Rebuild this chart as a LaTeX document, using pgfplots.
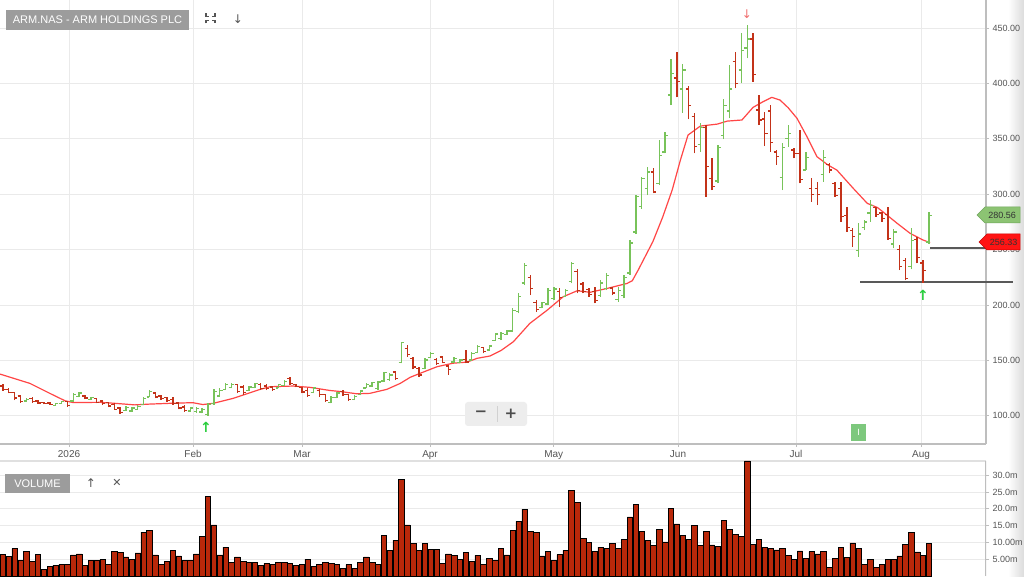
\documentclass[border=0pt]{standalone}
\usepackage{fontspec}
\setmainfont{Liberation Sans}
\newfontfamily\dejavu{DejaVu Sans}
\usepackage{pgfplots}
\usepackage{pgfplotstable}
\pgfplotsset{compat=1.18}

\definecolor{upc}{RGB}{120,195,90}
\definecolor{dnc}{RGB}{195,50,25}
\definecolor{volc}{RGB}{185,40,10}
\definecolor{gridc}{RGB}{234,234,234}
\definecolor{txtc}{RGB}{85,85,85}
\definecolor{mac}{RGB}{255,70,70}
\definecolor{boxg}{RGB}{156,156,156}
\definecolor{axc}{RGB}{190,190,190}

\pgfdeclareplotmark{otick}{\pgfpathmoveto{\pgfqpoint{-2.8pt}{0pt}}\pgfpathlineto{\pgfqpoint{0pt}{0pt}}\pgfusepathqstroke}
\pgfdeclareplotmark{ctick}{\pgfpathmoveto{\pgfqpoint{0pt}{0pt}}\pgfpathlineto{\pgfqpoint{2.8pt}{0pt}}\pgfusepathqstroke}
% vertical high-low line: length = (h-l) in axis units times 444pt/400.7
\pgfdeclareplotmark{hlbar}{\pgfpathmoveto{\pgfqpoint{0pt}{0pt}}\pgfpathlineto{\pgfpoint{0pt}{\hlr*1.10806pt}}\pgfusepathqstroke}

\pgfplotstableread{
x o h l c
4 113.5 115.8 112.8 115
9 109.5 111.9 108.9 111
10 111 113.7 110.7 113
12 113.5 120.3 112.8 119
13 117.5 121.8 116.7 120.5
15 115 117.3 114.3 116.5
21 105 108.9 104.7 107.5
22 104.5 108.3 103.8 107
23 106 109.8 105.3 108.5
24 110.5 117.3 109.8 115.5
25 117 123.3 116.7 122
32 104.5 108.3 103.8 107
33 104 108.3 102.9 106.5
34 103.5 107.4 102.3 106
35 101.5 111.3 99.9 110
36 111 123.9 109.8 122
37 118 124.8 117.3 123
38 124 130 123.3 128.5
39 125.5 129.3 124.8 128
42 123 126.9 122.7 126
43 125.5 130 124.8 129
47 125 128.7 124.8 128
48 127.5 132.4 126.9 131
53 121 126.3 120.3 125
56 112 117.9 111.3 116.5
57 116.5 121.8 115.8 120.5
60 114.5 118.8 114.3 117.5
61 119 123.3 118.5 122.5
62 125 129.3 124.8 128.5
63 127 130.5 126.3 130
64 124.5 131.8 123.3 130.5
65 131.5 139.9 130.8 139
66 133 138.4 131.8 137
68 148 166.9 147.4 166
72 142.5 151.9 142 150.5
73 152.5 157.9 151.9 156.5
77 148.5 152.8 148 152
78 148 151 147.4 150.5
80 150.5 157.9 149.8 156.5
81 157 163.9 156.4 162.5
83 159.5 163.9 158.8 163
84 168 175 167.8 174
85 170 175.9 168.4 174.5
86 173.5 177.4 172.9 176.5
87 176.5 197 175.9 195
88 194 210.5 192.4 208
89 220 237.6 218 235.5
92 198 203 197 202
93 201 215 200 213
94 206 216.5 204.5 214.5
96 208 214.1 207.5 213
97 221 239 219.5 237.5
102 208.5 222.5 207.5 220
103 215 228.5 213.5 226.5
105 205 216.5 203 213
106 208.5 227 206 225
107 229 259 227 256
108 266 299.3 264 298
109 289 315.8 287 314
110 305 324.8 299.3 320
112 310 348.9 308.3 335
113 338 356.4 336.9 353
114 389.5 421.7 380.5 409
116 395 417.5 373.6 412
119 345 364 338.4 360
122 312 344.4 309.8 342
123 353 385.6 349.5 380
124 375 416.6 368.5 395
126 412 445.2 400 430
127 432 452.7 422.6 440
133 315 345.9 303.8 342
134 350 362.4 342.9 355
137 322 338.4 321.8 333
140 318 339.9 311.3 333
146 249 273.7 243.6 264
147 270 276.7 267.7 275
148 283 294.8 275.2 290
152 255 268.3 251.1 266
155 235 269.2 232.2 258
158 257 283.7 255.5 280.56
}\updata

\pgfplotstableread{
x o h l c
0 127 128.7 122.7 124
1 124 124.8 120.3 121
2 121 121.8 114.3 116
3 118 118.8 111.9 113
5 115.5 116.7 111.9 113
6 113.5 114.3 110.7 111.5
7 112 112.8 110.4 111
8 111.5 112.5 110.1 110.5
11 113 113.7 108.3 109.5
14 118 118.8 114.9 116
16 115.5 115.8 111.3 112
17 113.5 114.3 109.8 111
18 112 112.8 107.7 109
19 110 111.3 105.3 106
20 107 108.3 101.7 103
26 120.5 121.8 115.8 117
27 118 118.8 114.3 115.5
28 116.5 117.3 112.8 114
29 115 116.7 109.8 111
30 111.5 112.8 105.9 107
31 108 109.8 103.8 105
40 128 128.7 120.3 122
41 126 127.8 118.8 121
44 128.5 129.3 123.3 124.5
45 127 128.4 123.3 124.5
46 126 126.9 122.7 123.5
49 133.5 135.4 127.8 129.5
50 128.5 128.7 125.7 126.5
51 125.5 126.3 120.3 121.5
52 123 124.8 117.3 118.5
54 123 123.9 117.3 119
55 119 120 112.8 114
58 122 123.3 117.9 119
59 119 119.7 113.7 114.5
67 139.5 140.8 132.4 134
69 161 163.9 153.4 155.5
70 152 152.8 142 144
71 143 144.4 135.4 137
74 151 151.9 145.9 147
75 153 154 147.4 148
76 145 145.9 136.9 142
79 151 159.4 147.4 148.5
82 161.5 162.4 156.4 158
90 225 227 209 215
91 202 204.5 194 196
95 212 215 198.5 207
98 230 232.2 210.5 213
99 219 221 210.5 212.5
100 214 215 207.5 209.5
101 212 216.5 201.5 204
104 215.5 216.5 209 211
111 320 323.3 300.8 302
115 405 428 387.4 402
117 395 397.6 367.6 380
118 370 373.6 336.9 343
120 360 362.4 297.8 325
121 314 332.4 303.8 307
125 420 428.6 395.5 400
128 440 445.2 401.6 408
129 376 389.5 362.4 367
130 368 374.5 343.5 355
131 375 380.5 338.4 347
132 338 339.9 326.4 334
135 340 341.4 332.4 337
136 337 357.9 309.8 313
138 305 314.3 293.3 300
139 305 311.3 290.2 300
141 327 327.8 318.8 322
142 310 311.3 297.8 299
143 305 311.3 275.2 280
144 281 288.7 266.2 270
145 267 269.2 252.6 262
149 288 288.7 279.7 282
150 283 284.2 275.2 278
151 282 288.7 258.7 260
153 250 254.2 231.6 235
154 240 242.1 222.6 224
156 259 261.7 237.6 243
157 238 240.6 220 231
}\dndata

\pgfplotstableread{
x m
-0.5 137.7
4.6 129.3
8.0 120.3
10.6 113.6
12.0 112.0
16.6 112.2
19.1 111.3
22.5 109.9
25.0 110.6
28.5 111.3
32.4 111.9
34.1 110.2
35.9 111.3
39.3 115.8
43.9 123.9
45.6 126.3
49.5 126.9
52.4 125.7
55.8 122.9
57.5 122.0
60.4 119.9
62.6 120.3
65.5 123.9
67.8 129.3
69.5 134.8
71.2 138.4
74.1 144.4
76.8 147.5
79.2 148.5
80.9 151.9
83.1 154.0
85.0 159.0
87.1 166.9
89.9 183.4
92.9 195.5
95.6 207.5
98.0 212.9
100.2 211.5
103.1 215
106.5 219.5
107.4 222
108.4 231.6
110.9 257.2
112.6 279.7
114.2 303.8
115.6 330.8
116.9 353.4
119.0 361.5
121.9 363.3
123.6 366
126.1 367
128.0 378.4
129.7 383.5
131.2 387.4
132.6 385
134.0 378
135.5 368.5
137.2 351.9
138.9 333.9
140.8 326.3
142.3 321.8
145.1 305.3
147.5 291.7
149.2 288.1
150.5 282.7
152.6 273.7
154.8 264.7
157.0 258.7
158.2 256.33
}\madata

\pgfplotstableread{
x v
0 6.5
1 5.9
2 8.2
3 4.8
4 7.4
5 4.5
6 6.5
7 1.9
8 2.8
9 3.3
10 3.6
11 3.4
12 6.3
13 6.6
14 3.1
15 4.8
16 4.6
17 5.0
18 3.4
19 7.4
20 7.1
21 5.7
22 5.1
23 6.9
24 13.1
25 13.7
26 6.3
27 3.6
28 4.3
29 7.6
30 6.0
31 4.8
32 4.8
33 6.6
34 11.8
35 23.7
36 15.2
37 6.3
38 8.6
39 4.0
40 5.7
41 4.3
42 4.0
43 4.0
44 3.2
45 3.8
46 3.5
47 4.0
48 4.0
49 3.8
50 3.2
51 3.6
52 5.1
53 2.8
54 3.4
55 4.0
56 3.8
57 3.6
58 2.2
59 3.4
60 2.2
61 4.0
62 5.7
63 4.0
64 3.4
65 12.1
66 7.7
67 10.6
68 28.8
69 15.2
70 9.7
71 7.7
72 9.7
73 7.9
74 7.9
75 3.8
76 6.6
77 6.2
78 5.1
79 7.1
80 4.5
81 6.2
82 3.6
83 5.4
84 4.8
85 8.2
86 6.3
87 13.5
88 16.3
89 19.9
90 13.4
91 12.9
92 6.0
93 7.4
94 4.8
95 6.4
96 7.7
97 25.4
98 21.8
99 11.2
100 10.0
101 7.4
102 8.6
103 8.3
104 9.7
105 8.3
106 10.9
107 17.6
108 21.2
109 13.4
110 10.6
111 9.1
112 14.0
113 10.2
114 20.1
115 15.5
116 12.2
117 11.0
118 15.0
119 9.2
120 13.4
121 9.3
122 8.9
123 16.6
124 14.0
125 12.4
126 11.9
127 34.2
128 9.4
129 10.9
130 8.6
131 8.3
132 7.8
133 8.2
134 6.2
135 5.1
136 7.5
137 5.4
138 7.3
139 6.6
140 7.3
141 2.7
142 5.3
143 8.6
144 5.6
145 9.9
146 8.3
147 3.6
148 5.0
149 2.7
150 3.6
151 4.9
152 5.0
153 6.0
154 9.4
155 12.9
156 7.2
157 6.2
158 9.7
}\voldata

\begin{document}
\begin{tikzpicture}[x=1pt,y=1pt]
\useasboundingbox (0,0) rectangle (1024,577);
\fill[white] (0,0) rectangle (1024,577);
\shade[left color=white, right color=black!14] (1008,0) rectangle (1024,577);

% ---------------- price panel ----------------
\begin{axis}[
  at={(0pt,133pt)}, anchor=south west,
  scale only axis, width=986pt, height=444pt,
  xmin=-0.5, xmax=167.75, ymin=74.6, ymax=475.3,
  enlargelimits=false, clip=false,
  axis line style={draw=none},
  xtick={11.28,32.44,51.04,72.88,93.99,115.2,135.34,156.68},
  xticklabels={2026,Feb,Mar,Apr,May,Jun,Jul,Aug},
  ytick={100,150,...,450},
  ytick pos=right, yticklabel pos=right, xtick pos=bottom,
  tick align=outside, major tick length=3pt,
  tick style={draw=axc, line width=0.8pt},
  grid=major, major grid style={draw=gridc, line width=0.8pt},
  xticklabel style={font=\fontsize{10}{12}\selectfont, text=txtc},
  yticklabel style={font=\fontsize{9}{11}\selectfont, text=txtc, anchor=west},
  yticklabel={\pgfmathprintnumber[fixed,fixed zerofill,precision=2,assume math mode=true]{\tick}},
]
\draw[axc, line width=1.5pt] (rel axis cs:0,0) -- (rel axis cs:1,0);
\draw[axc, line width=1.2pt] (rel axis cs:1,0) -- (rel axis cs:1,1);

% support / resistance lines
\addplot[black!65, line width=1.6pt, mark=none, forget plot] coordinates {(146.3,220.8) (172.4,220.8)};
\addplot[black!65, line width=1.6pt, mark=none, forget plot] coordinates {(158.2,251.4) (172.4,251.4)};

% up bars
\addplot[scatter, only marks, forget plot, mark=hlbar, point meta=\thisrow{x},
  visualization depends on={\thisrow{h}-\thisrow{l} \as \hlr},
  scatter/use mapped color={draw=upc, fill=upc},
  mark options={line width=1.4pt}]
  table[x=x, y=l] {\updata};
\addplot[only marks, mark=otick, mark options={draw=upc, line width=1.3pt}, forget plot] table[x=x, y=o] {\updata};
\addplot[only marks, mark=ctick, mark options={draw=upc, line width=1.3pt}, forget plot] table[x=x, y=c] {\updata};
% down bars
\addplot[scatter, only marks, forget plot, mark=hlbar, point meta=\thisrow{x},
  visualization depends on={\thisrow{h}-\thisrow{l} \as \hlr},
  scatter/use mapped color={draw=dnc, fill=dnc},
  mark options={line width=1.4pt}]
  table[x=x, y=l] {\dndata};
\addplot[only marks, mark=otick, mark options={draw=dnc, line width=1.3pt}, forget plot] table[x=x, y=o] {\dndata};
\addplot[only marks, mark=ctick, mark options={draw=dnc, line width=1.3pt}, forget plot] table[x=x, y=c] {\dndata};

% moving average
\addplot[mac, line width=1.2pt, mark=none, forget plot] table[x=x, y=m] {\madata};
\end{axis}

% ---------------- volume panel ----------------
\begin{axis}[
  at={(0pt,0.8pt)}, anchor=south west,
  scale only axis, width=986pt, height=115.2pt,
  xmin=-0.5, xmax=167.75, ymin=0, ymax=34.2,
  enlargelimits=false,
  axis line style={draw=none},
  xtick=\empty,
  ytick={5,10,15,20,25,30},
  yticklabels={5.00m,10.00m,15.0m,20.0m,25.0m,30.0m},
  ytick pos=right, yticklabel pos=right,
  tick align=outside, major tick length=3pt,
  tick style={draw=axc, line width=0.8pt},
  ymajorgrids, major grid style={draw=gridc, line width=0.8pt},
  yticklabel style={font=\fontsize{9}{11}\selectfont, text=txtc, anchor=west},
  ybar, bar width=0.92,
]
\draw[black!12, line width=2pt] (rel axis cs:0,1) -- (rel axis cs:1,1);
\draw[axc, line width=1.2pt] (rel axis cs:1,0) -- (rel axis cs:1,1);
\addplot[fill=volc, draw=black, line width=0.6pt] table[x=x, y=v] {\voldata};
\end{axis}

% ---------------- decorations ----------------
\node[fill=boxg, text=white, minimum width=183pt, minimum height=20pt, inner sep=0pt,
  font=\fontsize{11}{12}\selectfont] at (97.5,557) {ARM.NAS - ARM HOLDINGS PLC};
\begin{scope}[txtc, line width=1.1pt]
  \draw (206,553.5) -- (206,556.5) -- (209,556.5);
  \draw (212,556.5) -- (215,556.5) -- (215,553.5);
  \draw (206,563.5) -- (206,560.5) -- (209,560.5);
  \draw (212,560.5) -- (215,560.5) -- (215,563.5);
\end{scope}
\node[text=txtc, font=\dejavu\fontsize{12}{12}\selectfont] at (238,558) {↓};

\node[fill=boxg, text=white, minimum width=65pt, minimum height=19pt, inner sep=0pt,
  font=\fontsize{11}{12}\selectfont] at (37.5,93.5) {VOLUME};
\node[text=txtc, font=\dejavu\fontsize{12}{12}\selectfont] at (91,94) {↑};
\node[text=txtc, font=\dejavu\fontsize{11}{11}\selectfont] at (117,94) {✕};

\fill[black!7, rounded corners=3pt] (465,151) rectangle (527,175);
\draw[black!18, line width=0.8pt] (497,155) -- (497,171);
\node[text=black!70, font=\dejavu\bfseries\fontsize{15}{15}\selectfont] at (481,163.5) {−};
\node[text=black!70, font=\dejavu\bfseries\fontsize{15}{15}\selectfont] at (511,163.5) {+};

\node[fill={rgb,255:red,125;green,200;blue,125}, text=white, minimum width=15pt, minimum height=17pt,
  inner sep=0pt, font=\fontsize{9}{10}\selectfont] at (858.5,144.5) {I};

\node[text={rgb,255:red,240;green,110;blue,110}, font=\dejavu\fontsize{12}{12}\selectfont] at (747,563) {↓};
\node[text={rgb,255:red,40;green,205;blue,60}, font=\dejavu\bfseries\fontsize{14}{14}\selectfont] at (206,150) {↑};
\node[text={rgb,255:red,40;green,205;blue,60}, font=\dejavu\bfseries\fontsize{14}{14}\selectfont] at (923,282) {↑};

% price tags
\filldraw[fill={rgb,255:red,140;green,195;blue,115}, draw={rgb,255:red,110;green,165;blue,90}, line width=0.5pt]
  (977,362) -- (985,370) -- (1020,370) -- (1020,354) -- (985,354) -- cycle;
\node[text=black!80, font=\fontsize{9}{10}\selectfont] at (1002,362) {280.56};
\filldraw[fill={rgb,255:red,255;green,20;blue,20}, draw={rgb,255:red,200;green,0;blue,0}, line width=0.5pt]
  (979,335) -- (987,343) -- (1020,343) -- (1020,327) -- (987,327) -- cycle;
\node[text=black!80, font=\fontsize{9}{10}\selectfont] at (1003.5,335) {256.33};
\end{tikzpicture}
\end{document}
